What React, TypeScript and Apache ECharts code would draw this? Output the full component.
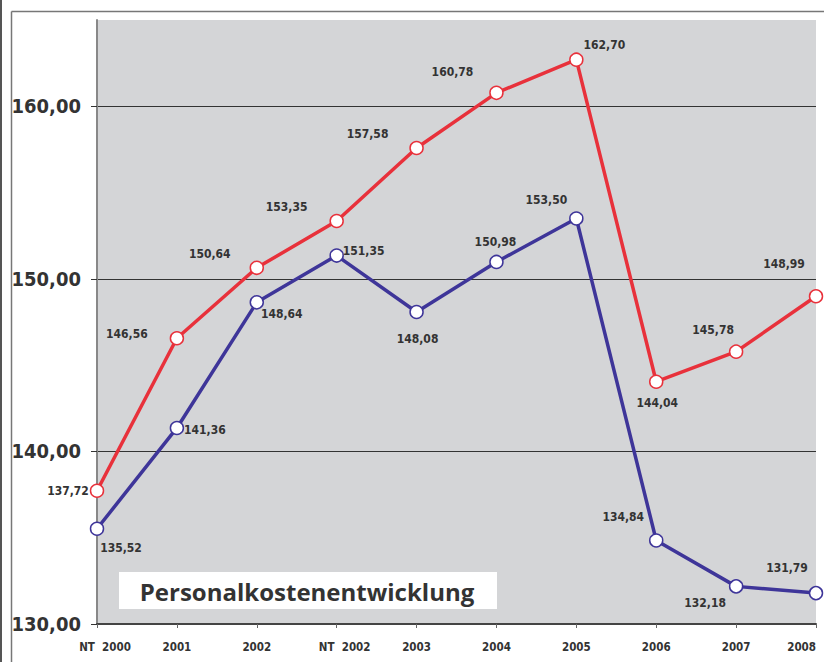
import React, { useEffect, useRef } from "react";
import * as echarts from "echarts";

const categories = ["NT  2000", "2001", "2002", "NT  2002", "2003", "2004", "2005", "2006", "2007", "2008"];
const redValues = [137.72, 146.56, 150.64, 153.35, 157.58, 160.78, 162.7, 144.04, 145.78, 148.99];
const blueValues = [135.52, 141.36, 148.64, 151.35, 148.08, 150.98, 153.5, 134.84, 132.18, 131.79];
const yTicks = [130, 140, 150, 160];
const chartTitle = "Personalkostenentwicklung";

// label offsets (styling), relative to each point
const redLabelOffsets = [[-29, 0], [-50, -4], [-47, -14], [-50, -14], [-49, -14], [-44, -21], [28, -15], [1, 21], [-23, -22], [-32, -32]];
const blueLabelOffsets = [[24, 19], [28, 2], [25, 12], [27, -5], [1, 27], [-1, -20], [-30, -18], [-33, -23], [-31, 17], [-29, -25]];

const FONT = "'DejaVu Sans Condensed', 'Liberation Sans Narrow', 'DejaVu Sans', sans-serif";
const fmt = (v: number) => v.toFixed(2).replace(".", ",");

function makeData(values: number[], offsets: number[][]) {
  return values.map((v, i) => ({
    value: v,
    label: { position: "inside", offset: offsets[i] },
  }));
}

export default function App() {
  const ref = useRef<HTMLDivElement>(null);
  useEffect(() => {
    if (!ref.current) return;
    const chart = echarts.init(ref.current, null, { renderer: "svg" });
    const labelStyle = {
      show: true,
      fontFamily: FONT,
      fontWeight: "bold",
      fontSize: 12,
      color: "#333333",
      formatter: (p: any) => fmt(p.value),
    };
    const catData = categories.map((c) =>
      c.startsWith("NT") ? { value: c, textStyle: { padding: [0, 0, 0, 16] } } : c
    );
    chart.setOption({
      animation: false,
      backgroundColor: "#ffffff",
      grid: {
        left: 97,
        right: 8,
        top: 20,
        bottom: 38,
        show: true,
        backgroundColor: "#d4d5d7",
        borderWidth: 0,
        containLabel: false,
        outerBoundsMode: "none",
      },
      xAxis: {
        type: "category",
        data: catData,
        boundaryGap: false,
        axisLine: { lineStyle: { color: "#444", width: 2 } },
        axisTick: { show: true, length: 4, lineStyle: { color: "#666" } },
        axisLabel: {
          fontFamily: FONT,
          fontWeight: "bold",
          fontSize: 11.5,
          color: "#333",
          margin: 17,
          interval: 0,
          alignMaxLabel: "right",
        },
        splitLine: { show: false },
      },
      yAxis: {
        type: "value",
        min: 130,
        max: 165,
        interval: 10,
        axisLine: { show: true, lineStyle: { color: "#888", width: 2 } },
        axisTick: { show: true, length: 6, lineStyle: { color: "#333" } },
        axisLabel: {
          fontFamily: FONT,
          fontWeight: "bold",
          fontSize: 20,
          color: "#333",
          margin: 16,
          showMaxLabel: false,
          formatter: (v: number) => (yTicks.includes(v) ? fmt(v) : ""),
        },
        splitLine: { show: true, showMinLine: false, showMaxLine: false, lineStyle: { color: "#333", width: 1 } },
      },
      series: [
        {
          type: "line",
          data: makeData(redValues, redLabelOffsets),
          symbol: "circle",
          symbolSize: 13,
          lineStyle: { color: "#e8313b", width: 3.5 },
          itemStyle: { color: "#ffffff", borderColor: "#e8313b", borderWidth: 1.5 },
          label: labelStyle,
          z: 3,
        },
        {
          type: "line",
          data: makeData(blueValues, blueLabelOffsets),
          symbol: "circle",
          symbolSize: 13,
          lineStyle: { color: "#3e3599", width: 3.5 },
          itemStyle: { color: "#ffffff", borderColor: "#3e3599", borderWidth: 1.5 },
          label: labelStyle,
          z: 4,
        },
      ],
      graphic: [
        { type: "rect", shape: { x: 0, y: 0, width: 2, height: 662 }, style: { fill: "#555" }, silent: true },
        { type: "line", shape: { x1: 11.5, y1: 11.5, x2: 11.5, y2: 662 }, style: { stroke: "#777", lineWidth: 1.5 }, silent: true },
        { type: "line", shape: { x1: 11.5, y1: 11.5, x2: 824, y2: 11.5 }, style: { stroke: "#777", lineWidth: 1.5 }, silent: true },
        {
          type: "rect",
          shape: { x: 119, y: 572, width: 378, height: 37 },
          style: { fill: "#ffffff" },
          z: 10,
          silent: true,
        },
        {
          type: "text",
          x: 307,
          y: 591,
          z: 11,
          style: {
            text: chartTitle,
            fontFamily: "'Open Sans', 'Noto Sans', sans-serif",
            fontWeight: "bold",
            fontSize: 24,
            fill: "#333333",
            align: "center",
            verticalAlign: "middle",
          },
          silent: true,
        },
      ],
    });
    return () => chart.dispose();
  }, []);
  return <div ref={ref} style={{ width: 824, height: 662, position: "absolute", left: 0, top: 0 }} />;
}
